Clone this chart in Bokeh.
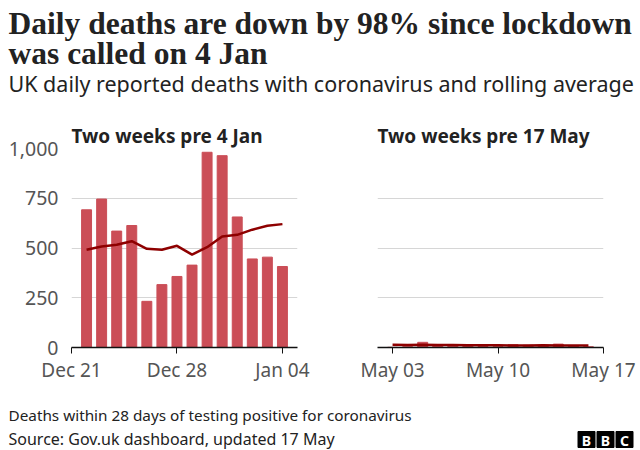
import pandas as pd
from bokeh.plotting import figure
from bokeh.layouts import column, row
from bokeh.models import Range1d, FixedTicker, DatetimeTickFormatter, Title, NumeralTickFormatter
from bokeh.core.properties import value
from bokeh.embed import file_html
from bokeh.resources import INLINE

# ---------------- data ----------------
title_lines = ["Daily deaths are down by 98% since lockdown", "was called on 4 Jan"]
subtitle = "UK daily reported deaths with coronavirus and rolling average"
panel_titles = ["Two weeks pre 4 Jan", "Two weeks pre 17 May"]
footnote = "Deaths within 28 days of testing positive for coronavirus"
source = "Source: Gov.uk dashboard, updated 17 May"
logo_letters = ["B", "B", "C"]

jan_dates = ["2020-12-22", "2020-12-23", "2020-12-24", "2020-12-25", "2020-12-26",
             "2020-12-27", "2020-12-28", "2020-12-29", "2020-12-30", "2020-12-31",
             "2021-01-01", "2021-01-02", "2021-01-03", "2021-01-04"]
jan_deaths = [692, 746, 585, 613, 232, 316, 357, 414, 981, 964, 656, 445, 454, 407]
jan_avg = [491, 508, 516, 534, 496, 491, 511, 467, 504, 558, 566, 592, 612, 620]

may_dates = ["2021-05-03", "2021-05-04", "2021-05-05", "2021-05-06", "2021-05-07",
             "2021-05-08", "2021-05-09", "2021-05-10", "2021-05-11", "2021-05-12",
             "2021-05-13", "2021-05-14", "2021-05-15", "2021-05-16"]
may_deaths = [1, 4, 26, 13, 11, 10, 5, 4, 14, 11, 11, 17, 7, 4]
may_avg = [14, 13, 14, 13, 12, 11, 11, 11, 10, 10, 11, 10, 10, 10]

y_ticks = [0, 250, 500, 750, 1000]
jan_ticks = ["2020-12-21", "2020-12-28", "2021-01-04"]
may_ticks = ["2021-05-03", "2021-05-10", "2021-05-17"]
jan_span = ["2020-12-21", "2021-01-05"]
may_span = ["2021-05-02", "2021-05-17"]

BAR = "#CB4E57"
LINE = "#8E0000"
TEXT = "#222222"
TICK = "#555555"
RULE = "#8c8c8c"
SANS = "Noto Sans"
SERIF = "Liberation Serif"
DAY_MS = 86400000


def ms(d):
    return pd.Timestamp(d).value / 1e6


def blank(w, h, x0, x1, y0, y1, bg="white"):
    p = figure(width=w, height=h, x_range=Range1d(x0, x1), y_range=Range1d(y1, y0),
               output_backend="svg", toolbar_location=None, min_border=0,
               background_fill_color=bg, border_fill_color=bg)
    p.axis.visible = False
    p.grid.visible = False
    p.outline_line_color = None
    return p


# ---------------- header ----------------
head = blank(640, 108, 0, 640, 0, 108)
head.text(x=[8, 8], y=[23, 53], text=title_lines, text_font=value(SERIF),
          text_font_size="31.5px", text_font_style="bold", text_color=TEXT,
          text_baseline="alphabetic")
head.text(x=[8], y=[83], text=[subtitle], text_font=value(SANS),
          text_font_size="21.5px", text_color=TEXT, text_baseline="alphabetic")


# ---------------- panels ----------------
def panel(dates, deaths, avg, ticks, span, ttl, w, bl, br, show_y):
    p = figure(width=w, height=282, x_axis_type="datetime",
               x_range=Range1d(ms(span[0]), ms(span[1])), y_range=Range1d(0, 1000),
               output_backend="svg", toolbar_location=None,
               min_border_left=bl, min_border_right=br, min_border_top=40,
               min_border_bottom=43)
    p.title = Title(text=ttl, align="left", text_font=SANS, text_font_size="19px",
                    text_font_style="bold", text_color=TEXT, standoff=0)
    x = [ms(d) for d in dates]
    p.vbar(x=x, top=deaths, width=0.66 * DAY_MS, color=BAR)
    p.line(x=x, y=avg, color=LINE, line_width=2.5)
    p.outline_line_color = None
    p.xgrid.visible = False
    p.ygrid.ticker = FixedTicker(ticks=y_ticks)
    p.ygrid.grid_line_color = "#d6d6d6"
    p.xaxis.ticker = FixedTicker(ticks=[ms(t) for t in ticks])
    p.xaxis.formatter = DatetimeTickFormatter(days="%b %d", months="%b %d")
    p.xaxis.axis_line_color = "#111111"
    p.xaxis.axis_line_width = 1.5
    p.xaxis.major_tick_line_color = "#111111"
    p.xaxis.major_tick_out = 6
    p.xaxis.major_tick_in = 0
    p.xaxis.minor_tick_line_color = None
    p.xaxis.major_label_standoff = 3
    p.xaxis.major_label_text_font = SANS
    p.xaxis.major_label_text_font_size = "19px"
    p.xaxis.major_label_text_color = TICK
    if show_y:
        p.yaxis.ticker = FixedTicker(ticks=y_ticks)
        p.yaxis.axis_line_color = None
        p.yaxis.major_tick_line_color = None
        p.yaxis.minor_tick_line_color = None
        p.yaxis.major_label_standoff = 7
        p.yaxis.major_label_text_font = SANS
        p.yaxis.major_label_text_font_size = "19.5px"
        p.yaxis.major_label_text_color = TICK
        p.yaxis.formatter = NumeralTickFormatter(format="0,0")
    else:
        p.yaxis.visible = False
    return p


left = panel(jan_dates, jan_deaths, jan_avg, jan_ticks, jan_span, panel_titles[0],
             328, 71, 31, True)
right = panel(may_dates, may_deaths, may_avg, may_ticks, may_span, panel_titles[1],
              312, 49, 37, False)

# ---------------- footer ----------------
foot1 = blank(640, 35, 0, 640, 390, 425)
foot1.text(x=[8], y=[414], text=[footnote], text_font=value(SANS), text_font_size="15.3px",
           text_color=TEXT, text_baseline="alphabetic")

rule = blank(640, 2, 0, 640, 425, 427, bg=RULE)

foot2 = blank(640, 23, 0, 640, 427, 450)
foot2.text(x=[8], y=[438], text=[source], text_font=value(SANS), text_font_size="16px",
           text_color=TEXT, text_baseline="alphabetic")
logo_x = [586, 605, 624]
foot2.rect(x=logo_x, y=[439] * 3, width=17, height=16, color="#000000")
foot2.text(x=logo_x, y=[439.5] * 3, text=logo_letters, text_font=value(SANS),
           text_font_size="14px", text_font_style="bold", text_color="white",
           text_align="center", text_baseline="middle")

layout = column(head, row(left, right), foot1, rule, foot2)
open("out.html", "w").write(file_html(layout, INLINE))
